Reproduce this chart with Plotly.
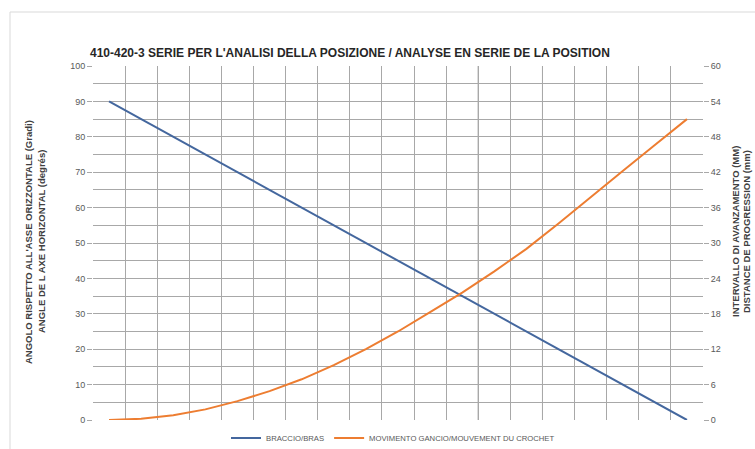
import plotly.graph_objects as go

# ---- data ----
positions = list(range(1, 20))
braccio = [90, 85, 80, 75, 70, 65, 60, 55, 50, 45, 40, 35, 30, 25, 20, 15, 10, 5, 0]
gancio = [0, 0.2, 0.8, 1.8, 3.2, 4.9, 6.9, 9.3, 12.0, 15.0, 18.3, 21.6, 25.2, 29.0, 33.3, 37.8, 42.2, 46.6, 51.0]
left_ticks = [0, 10, 20, 30, 40, 50, 60, 70, 80, 90, 100]
right_ticks = [0, 6, 12, 18, 24, 30, 36, 42, 48, 54, 60]

W, H = 755, 449
L, R, T, B = 93, 52, 66, 29
PW, PH = W - L - R, H - T - B

def px(x):
    return (x - L) / PW

def py(y):
    return (H - B - y) / PH

BLUE = "#44679e"
ORANGE = "#ed7d31"
GRID = "#a8a8a8"
TXT = "#595959"
FONT = "Liberation Sans, Arial, sans-serif"

fig = go.Figure()
fig.add_trace(go.Scatter(x=positions, y=braccio, mode="lines", name="BRACCIO/BRAS",
                         line=dict(color=BLUE, width=2), yaxis="y"))
fig.add_trace(go.Scatter(x=positions, y=gancio, mode="lines", name="MOVIMENTO GANCIO/MOUVEMENT DU CROCHET",
                         line=dict(color=ORANGE, width=2), yaxis="y2"))

grid_x = [p - 0.5 for p in positions] + [positions[-1] + 0.5]

fig.update_layout(
    width=W, height=H,
    margin=dict(l=L, r=R, t=T, b=B, autoexpand=False),
    paper_bgcolor="white", plot_bgcolor="white",
    font=dict(family=FONT, color=TXT),
    showlegend=True,
    legend=dict(orientation="h", xref="container", yref="container",
                x=226 / W, y=(H - 438) / H, xanchor="left", yanchor="middle",
                font=dict(size=7.7, color=TXT, family=FONT), bgcolor="rgba(0,0,0,0)",
                itemwidth=30, tracegroupgap=0),
    xaxis=dict(range=[positions[0] - 0.5, positions[-1] + 0.5], tickvals=grid_x,
               showticklabels=False, showgrid=True, gridcolor=GRID, gridwidth=1,
               zeroline=False, showline=False, ticks="", automargin=False),
    yaxis=dict(range=[0, 100], tickvals=left_ticks, showgrid=True, gridcolor=GRID,
               zeroline=False, showline=False, ticks="outside", ticklen=5, tickcolor=GRID,
               tickfont=dict(size=9, color=TXT), automargin=False,
               minor=dict(dtick=5, showgrid=True, gridcolor=GRID)),
    yaxis2=dict(range=[0, 60], tickvals=right_ticks, overlaying="y", side="right",
                showgrid=False, zeroline=False, showline=False, ticks="outside", ticklen=5,
                tickcolor=GRID, tickfont=dict(size=9, color=TXT), automargin=False),
)

# darker vertical gridlines seen in the reference
for gx in [positions[12] - 0.5, positions[14] - 0.5]:
    fig.add_shape(type="line", xref="x", yref="paper", x0=gx, x1=gx, y0=0, y1=1,
                  line=dict(color="#707070", width=1), layer="below")

# outer frame
fig.add_shape(type="rect", xref="paper", yref="paper", x0=px(10), x1=px(770), y0=py(12), y1=py(470),
              line=dict(color="#d9d9d9", width=1), layer="below")

# title
fig.add_annotation(text="<b>410-420-3 SERIE PER L'ANALISI DELLA POSIZIONE / ANALYSE EN SERIE DE LA POSITION</b>",
                   x=px(350), y=py(53), xref="paper", yref="paper", showarrow=False,
                   xanchor="center", yanchor="middle", font=dict(size=12, color="#262626", family=FONT))

# left axis title (two lines)
fig.add_annotation(text="<b>ANGOLO RISPETTO ALL'ASSE ORIZZONTALE (Gradi)</b>", textangle=-90,
                   x=px(28), y=py(242), xref="paper", yref="paper", showarrow=False,
                   xanchor="center", yanchor="middle", font=dict(size=9.5, color="#404040", family=FONT))
fig.add_annotation(text="<b>ANGLE DE L AXE HORIZONTAL (degrés)</b>", textangle=-90,
                   x=px(41), y=py(242), xref="paper", yref="paper", showarrow=False,
                   xanchor="center", yanchor="middle", font=dict(size=9.5, color="#404040", family=FONT))

# right axis title (two lines)
fig.add_annotation(text="<b>INTERVALLO DI AVANZAMENTO (MM)</b>", textangle=-90,
                   x=px(735), y=py(232), xref="paper", yref="paper", showarrow=False,
                   xanchor="center", yanchor="middle", font=dict(size=9.5, color="#404040", family=FONT))
fig.add_annotation(text="<b>DISTANCE DE PROGRESSION (mm)</b>", textangle=-90,
                   x=px(746), y=py(232), xref="paper", yref="paper", showarrow=False,
                   xanchor="center", yanchor="middle", font=dict(size=9.5, color="#404040", family=FONT))

fig.write_html("out.html", config={"displayModeBar": False},
               post_script="document.body.style.margin='0px';")
